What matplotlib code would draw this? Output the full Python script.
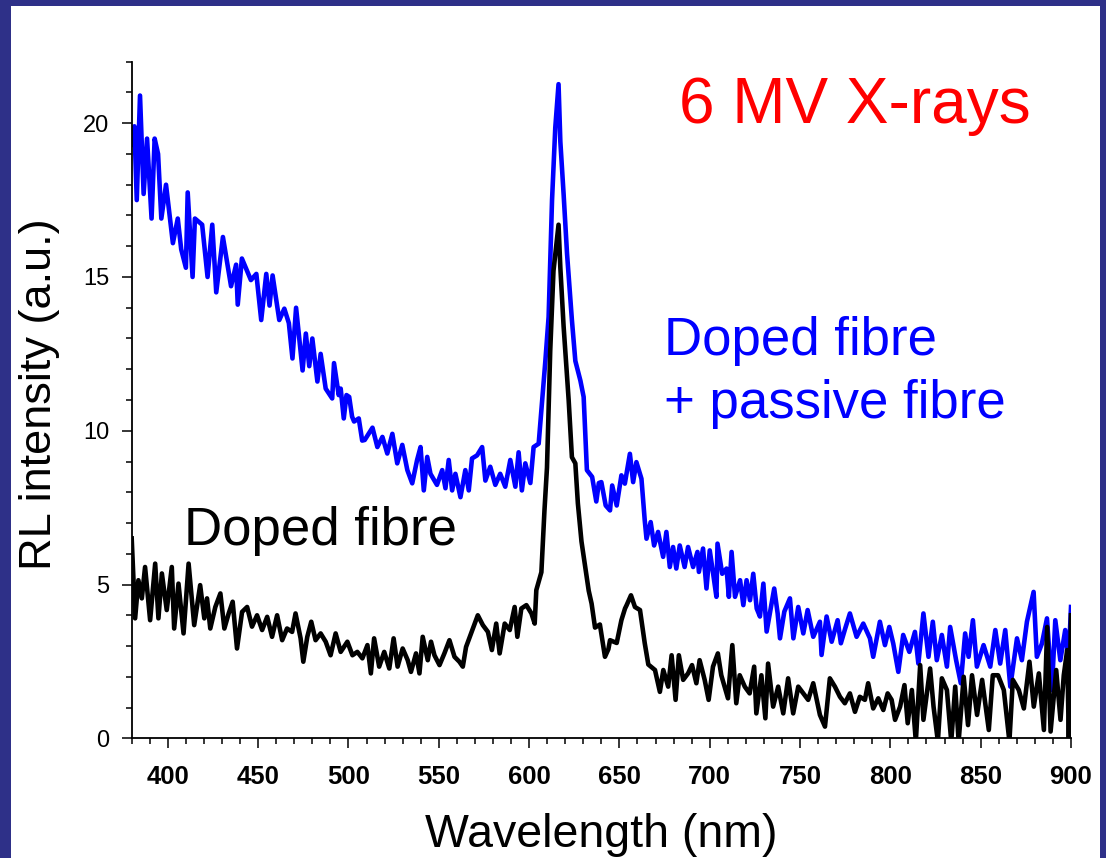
import numpy as np
import matplotlib
matplotlib.use("Agg")
import matplotlib.pyplot as plt
from matplotlib.patches import Rectangle
from matplotlib.ticker import MultipleLocator

plt.rcParams['font.family'] = ['Liberation Sans', 'DejaVu Sans']

# doped fibre + passive fibre (blue)
blue_nm = [380, 381.5, 382.8, 384.6, 386.6, 388.5, 391, 392.7, 394.6, 396.4, 399, 402.8, 405.5, 407.4,
           410, 411, 413.7, 415, 419, 422, 424.6, 426.8, 430.5, 435, 437.8, 438.7, 441, 446, 449,
           451.7, 454.5, 456.3, 458, 461.7, 464.5, 467, 469, 471, 474.6, 476.4, 478.3, 480, 482.8,
           484.6, 487.4, 491, 492, 494.6, 495.7, 497.4, 498.9, 500.4, 502, 503.1, 505.7, 507.6, 509,
           513.3, 516, 518.8, 521.5, 524.3, 527, 529.8, 532.6, 535.3, 538, 539.9, 541.7, 543.6, 545.4,
           549, 551.9, 553.7, 555.5, 557.4, 559.2, 562, 564.7, 566.6, 568.4, 571.2, 574, 575.8, 578.5,
           581.3, 584, 586.8, 589.6, 592.4, 594.2, 596, 597.9, 600.7, 602.5, 605.3, 607.1, 609, 610.8,
           612.7, 614.5, 616.3, 617.3, 619.1, 621, 623.7, 625.6, 628.4, 630.2, 632, 634.9, 637.2, 638.6,
           640, 642.4, 644.8, 646, 648.5, 651.1, 653, 655.8, 657.6, 659.4, 662.2, 664, 665, 667.3,
           669.2, 671.4, 674.2, 676, 677.9, 679.7, 681.5, 683.4, 686.1, 688, 690.8, 693.2, 694, 696.3,
           698.2, 700, 701.9, 703.7, 704.3, 706.9, 709.3, 710.6, 712.1, 714, 716.8, 718.6, 720.4, 722.3,
           724.1, 726, 727.8, 729.7, 731.5, 733.9, 735.7, 737.6, 738.9, 741.3, 744.4, 746.3, 749, 751.8,
           754.2, 757.3, 761, 761.9, 764.7, 767.5, 770.8, 772.6, 775, 777.6, 781.3, 785, 788.7, 790.5,
           794.2, 797, 799.4, 801.6, 804.4, 807.1, 810.5, 813.6, 815.5, 818.3, 821.1, 823.5, 825.7,
           828.5, 831.3, 833.1, 836.4, 839, 841.4, 843.3, 845.7, 847.9, 851.6, 855.3, 858.1, 860.8,
           863.6, 866.4, 870.1, 872.8, 875.6, 879.3, 881.1, 883.9, 886.7, 889.4, 891.3, 894.1, 896.8,
           898.7, 900]
blue_val = [19.3, 19.9, 17.5, 20.9, 17.7, 19.5, 16.9, 19.5, 19.0, 16.9, 18.0, 16.1, 16.9, 15.9,
            15.3, 17.75, 15.0, 16.9, 16.7, 15.0, 16.7, 14.5, 16.3, 14.7, 15.4, 14.1, 15.6, 14.9, 15.1,
            13.6, 15.1, 14.07, 15.05, 13.6, 13.97, 13.5, 12.35, 14.0, 11.96, 13.16, 12.1, 13.0, 11.6,
            12.5, 11.37, 11.05, 12.2, 11.16, 11.37, 10.4, 11.16, 11.1, 10.46, 10.3, 10.4, 9.68, 9.7,
            10.1, 9.47, 9.8, 9.26, 9.9, 8.94, 9.54, 8.72, 8.29, 9.05, 9.47, 8.06, 9.15, 8.6,
            8.24, 8.72, 8.13, 9.05, 8.06, 8.6, 7.84, 8.72, 8.06, 9.1, 9.2, 9.47, 8.38, 8.83,
            8.24, 8.6, 8.18, 9.05, 8.18, 9.3, 8.06, 8.94, 8.3, 9.47, 9.58, 10.87, 12.27, 13.7,
            17.5, 19.86, 21.27, 19.4, 17.7, 15.76, 13.6, 12.27, 11.63, 11.1, 8.72, 8.5, 7.7, 8.3,
            8.33, 7.57, 7.41, 8.22, 7.57, 8.55, 8.28, 9.25, 8.33, 8.98, 8.44, 7.1, 6.49, 7.03,
            6.27, 6.71, 5.9, 6.71, 5.57, 6.22, 5.52, 6.27, 5.57, 6.22, 5.57, 6.06, 5.41, 6.17,
            4.87, 6.11, 5.35, 4.6, 6.33, 5.35, 5.52, 4.6, 6.06, 4.6, 5.14, 4.33, 5.14, 4.49,
            5.35, 4.22, 3.96, 5.03, 3.47, 4.27, 4.87, 4.06, 3.25, 4.12, 4.55, 3.25, 4.27, 3.41,
            4.17, 3.3, 3.79, 2.71, 3.96, 3.14, 3.84, 3.09, 3.57, 4.06, 3.3, 3.73, 3.25, 2.65,
            3.79, 3.03, 3.62, 3.08, 2.16, 3.36, 2.81, 3.46, 2.43, 4.06, 2.65, 3.79, 2.54,
            3.36, 2.33, 3.62, 2.54, 1.79, 3.41, 2.65, 3.84, 2.33, 3.03, 2.33, 3.52, 2.43,
            3.52, 1.68, 3.25, 2.54, 3.79, 4.76, 2.65, 3.08, 3.9, 1.57, 3.84, 2.54, 3.52,
            2.54, 4.27]

# doped fibre only (black)
black_nm = [380, 381.9, 383.7, 385.6, 387.4, 390.2, 393, 394.8, 396.7, 399.4, 402.2, 403.5, 405.9,
            408.7, 411.5, 414.6, 417.9, 420.2, 421.7, 423.5, 426.3, 429.1, 431.3, 433.7, 435.9, 438.3,
            441.1, 443.9, 446.6, 449.4, 452.2, 455, 457.7, 460.5, 463.3, 466, 468.8, 470.7, 473.5, 475,
            477.2, 479.4, 481.8, 484.6, 487.4, 490.1, 492.9, 495.7, 499.4, 502.2, 504.9, 507.7, 510.5,
            512.4, 514.2, 517, 519.8, 522.6, 525, 527.2, 530, 532.8, 534.6, 537.4, 539.3, 541.1, 543.9,
            545.7, 547.6, 550.4, 553.1, 555.9, 558.7, 561.4, 563.3, 565.1, 567.9, 571.6, 574.4, 577.2,
            579.4, 581.8, 583.7, 586.5, 589.3, 592, 593.5, 595.7, 598.5, 601.3, 603.1, 604, 606.8,
            608.5, 609.9, 611.7, 613.5, 616.3, 617.3, 619.1, 621.9, 623.7, 625.6, 627, 629, 631, 633,
            634.6, 636.5, 639.2, 642, 643.9, 644.8, 648.5, 651.1, 653.1, 654, 656.4, 658.6, 661.4, 664,
            666, 669.7, 672.4, 674.3, 677, 678.9, 681.1, 682.9, 685.3, 688, 690.2, 692.6, 694.4, 697.2,
            699.4, 701.8, 704.5, 706.4, 710.1, 712.5, 714.7, 716.6, 719.4, 722.1, 724.6, 725.8, 728.6,
            730.8, 732.3, 735.1, 737.9, 740.7, 743.4, 746.2, 749, 751.8, 754.5, 757.3, 761, 763.8,
            766.5, 769.3, 772.1, 774.8, 777.6, 780.4, 783.1, 785.9, 787.7, 790.5, 793.3, 796.1, 798.5,
            800.7, 802.6, 805.4, 807.8, 809.6, 811.9, 814.1, 816.5, 818.3, 822, 823.9, 826.3, 828.5,
            831.3, 833.7, 835.9, 837.8, 840.6, 843, 845.2, 848, 850.8, 854.5, 856.7, 859.6, 862.8,
            865.9, 867.8, 871.1, 873.9, 877, 879.4, 882.2, 885, 886.8, 888.7, 891.8, 894.2, 896, 897.9,
            898.8, 900]
black_val = [6.5, 3.9, 5.14, 4.55, 5.57, 3.84, 5.68, 3.9, 5.36, 4.17, 5.57, 3.57, 5.03,
             3.41, 5.68, 3.68, 4.98, 3.9, 4.55, 3.57, 4.27, 4.71, 3.57, 4.06, 4.44, 2.92,
             4.11, 4.27, 3.63, 4.0, 3.52, 3.95, 3.3, 4.0, 3.19, 3.57, 3.46, 4.06, 3.25, 2.49,
             3.3, 3.79, 3.19, 3.41, 3.14, 2.7, 3.41, 2.81, 3.14, 2.7, 2.81, 2.6, 3.03,
             2.11, 3.25, 2.33, 2.81, 2.27, 3.25, 2.33, 2.92, 2.54, 2.16, 2.76, 2.11, 3.3, 2.54,
             3.14, 2.7, 2.38, 2.76, 3.19, 2.65, 2.49, 2.33, 2.97, 3.41, 4.0, 3.68, 3.46,
             2.87, 3.73, 2.76, 3.73, 3.52, 4.27, 3.3, 4.22, 4.33, 4.06, 3.73, 4.82, 5.4,
             7.4, 8.8, 12.6, 15.2, 16.7, 15.3, 13.4, 11.0, 9.14, 8.94, 7.64, 6.4, 5.6, 4.8,
             4.38, 3.6, 3.7, 2.65, 2.9, 3.19, 3.1, 3.84, 4.22, 4.33, 4.65, 4.27, 4.17, 3.1,
             2.4, 2.22, 1.51, 2.22, 1.68, 2.7, 1.25, 2.7, 1.9, 2.11, 2.38, 1.79, 2.54, 1.9,
             1.25, 2.33, 2.76, 2.05, 1.3, 3.03, 1.14, 2.05, 1.68, 1.46, 2.33, 0.81, 2.05,
             0.65, 2.43, 1.03, 1.68, 0.81, 1.95, 0.81, 1.68, 1.46, 1.25, 1.79, 0.76, 0.38,
             1.95, 1.68, 1.35, 1.14, 1.46, 0.86, 1.35, 1.25, 1.79, 0.97, 1.3, 0.92, 1.46,
             1.25, 0.6, 1.03, 1.73, 0.49, 1.57, -0.1, 2.38, 0.6, 2.27, 1.03, -0.1, 1.95,
             1.57, -0.1, 1.68, -0.1, 2.0, 0.43, 2.05, 0.76, 1.9, 0.27, 2.05, 2.05, 1.57,
             -0.1, 1.9, 1.57, 0.97, 2.49, 1.03, 2.11, 0.27, 3.62, 0.22, 2.22, 0.6, 2.05, 2.87,
             -0.1, 4.0]

W, H = 1106, 858
fig = plt.figure(figsize=(W / 100, H / 100), dpi=100)
fig.patch.set_facecolor('#2e3088')
# white panel inside the navy frame
fig.add_artist(Rectangle((11 / W, 0), (1100 - 11) / W, 1 - 6 / H, transform=fig.transFigure,
                         facecolor='white', edgecolor='none', zorder=-1))

ax = fig.add_axes([131.7 / W, 1 - 738.3 / H, (1071 - 131.7) / W, (738.3 - 61.7) / H])
ax.set_facecolor('none')

ax.plot(blue_nm, blue_val, color='#0000ff', lw=3.3, solid_joinstyle='round')
ax.plot(black_nm, black_val, color='black', lw=3.3, solid_joinstyle='round')

ax.set_xlim(380, 900)
ax.set_ylim(0, 22)
ax.xaxis.set_major_locator(MultipleLocator(50))
ax.xaxis.set_minor_locator(MultipleLocator(10))
ax.yaxis.set_major_locator(MultipleLocator(5))
ax.yaxis.set_minor_locator(MultipleLocator(1))

for s in ['top', 'right']:
    ax.spines[s].set_visible(False)
for s in ['left', 'bottom']:
    ax.spines[s].set_linewidth(1.3)

ax.tick_params(axis='both', which='major', direction='out', length=7.2, width=1.1)
ax.tick_params(axis='both', which='minor', direction='out', length=4.3, width=1.1)
ax.tick_params(axis='x', which='major', labelsize=18.5, pad=12)
ax.tick_params(axis='y', which='major', labelsize=17, pad=9)
for lab in ax.get_xticklabels():
    lab.set_fontweight('bold')

def px(x, y):
    return x / W, 1 - y / H

fig.text(*px(679, 123.3), '6 MV X-rays', color='#ff0000', fontsize=46, va='baseline', ha='left')
fig.text(*px(664, 355), 'Doped fibre', color='#0000ff', fontsize=38, va='baseline', ha='left')
fig.text(*px(664, 418), '+ passive fibre', color='#0000ff', fontsize=38, va='baseline', ha='left')
fig.text(*px(184, 545), 'Doped fibre', color='black', fontsize=38, va='baseline', ha='left')
fig.text(*px(601.5, 846.7), 'Wavelength (nm)', color='black', fontsize=33.5, va='baseline', ha='center')
fig.text(*px(40, 394), 'RL intensity (a.u.)', color='black', fontsize=32.5, rotation=90,
         va='center', ha='center')

fig.savefig('out.png', dpi=100, facecolor=fig.get_facecolor())
